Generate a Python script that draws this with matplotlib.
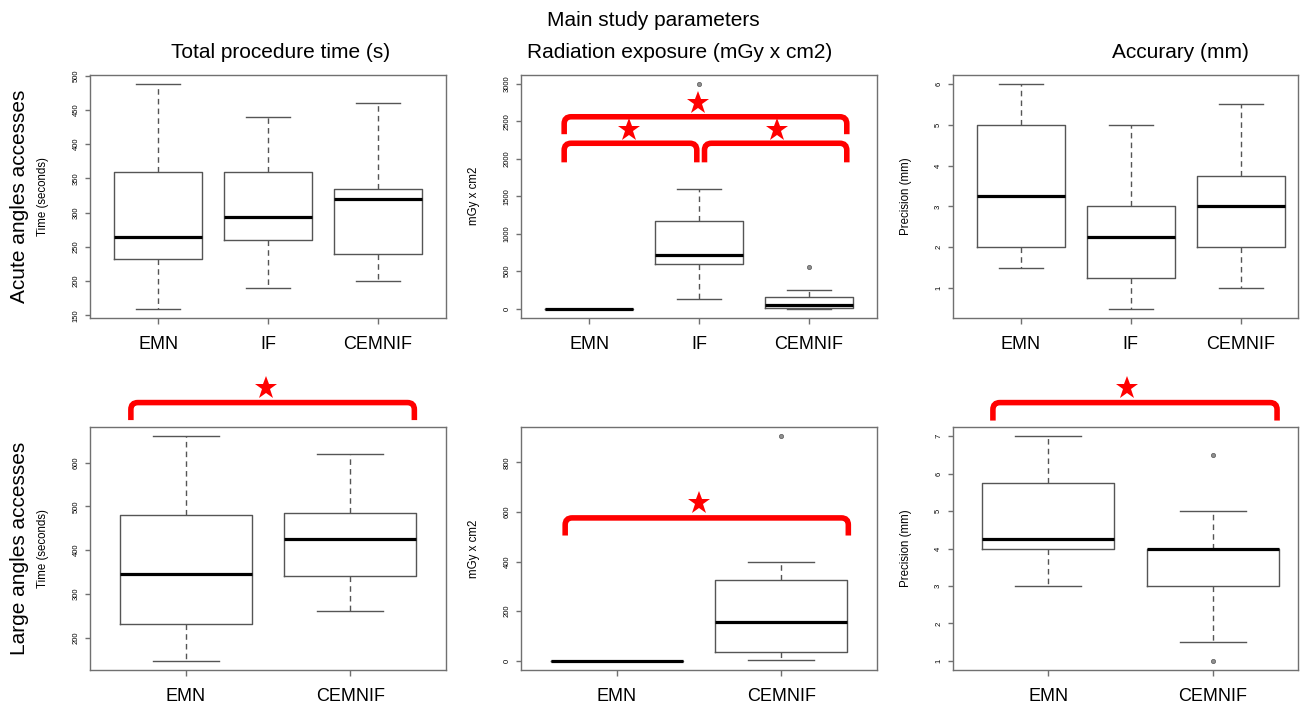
import numpy as np
import matplotlib.pyplot as plt
from matplotlib.path import Path
from matplotlib.patches import PathPatch

plt.rcParams['font.family'] = ['Liberation Sans', 'DejaVu Sans']

W, H = 1300, 705

groups_acute = ["EMN", "IF", "CEMNIF"]
groups_large = ["EMN", "CEMNIF"]

# five-number summaries per group: whisker low, Q1, median, Q3, whisker high
time_acute = [[160, 233, 265, 360, 488], [190, 260, 293, 360, 440], [200, 240, 320, 335, 460]]
time_acute_out = [[], [], []]
rad_acute = [[0, 0, 0, 0, 0], [130, 590, 710, 1175, 1600], [0, 10, 50, 160, 250]]
rad_acute_out = [[], [3000], [555]]
acc_acute = [[1.5, 2, 3.25, 5, 6], [0.5, 1.25, 2.25, 3, 5], [1, 2, 3, 3.75, 5.5]]
acc_acute_out = [[], [], []]

time_large = [[147, 232, 345, 480, 660], [260, 340, 425, 485, 620]]
time_large_out = [[], []]
rad_large = [[0, 0, 0, 0, 0], [5, 37, 157, 325, 400]]
rad_large_out = [[], [905]]
acc_large = [[3, 4, 4.25, 5.75, 7], [1.5, 3, 4, 4, 5]]
acc_large_out = [[], [6.5, 1]]

yticks_time_acute = [150, 200, 250, 300, 350, 400, 450, 500]
yticks_rad_acute = [0, 500, 1000, 1500, 2000, 2500, 3000]
yticks_acc_acute = [1, 2, 3, 4, 5, 6]
yticks_time_large = [200, 300, 400, 500, 600]
yticks_rad_large = [0, 200, 400, 600, 800]
yticks_acc_large = [1, 2, 3, 4, 5, 6, 7]

col_titles = ["Total procedure time (s)", "Radiation exposure (mGy x cm2)", "Accurary (mm)"]
row_titles = ["Acute angles accesses", "Large angles accesses"]
ylabels = ["Time (seconds)", "mGy x cm2", "Precision (mm)"]

# significance brackets: (x_left, x_right, y_top, y_leg_end) and stars (x, y)
brackets = {
    (0, 1): [(0.773, 1.98, 2208, 1953), (2.05, 3.345, 2208, 1953), (0.773, 3.345, 2562, 2329)],
    (1, 0): [(0.668, 2.388, 737, 697)],
    (1, 1): [(0.688, 2.406, 576, 505)],
    (1, 2): [(0.664, 2.388, 7.9, 7.42)],
}
stars = {
    (0, 1): [(1.364, 2383), (2.71, 2383), (1.99, 2744)],
    (1, 0): [(1.485, 770)],
    (1, 1): [(1.5, 635)],
    (1, 2): [(1.478, 8.28)],
}

panels = [
    [(time_acute, time_acute_out, yticks_time_acute),
     (rad_acute, rad_acute_out, yticks_rad_acute),
     (acc_acute, acc_acute_out, yticks_acc_acute)],
    [(time_large, time_large_out, yticks_time_large),
     (rad_large, rad_large_out, yticks_rad_large),
     (acc_large, acc_large_out, yticks_acc_large)],
]
row_groups = [groups_acute, groups_large]

col_left = [90, 521, 952.7]
col_width = [356, 356, 345.3]
row_top = [75, 427.3]
row_height = 242.5

EDGE = '#555555'
FRAME = '#707070'
RADIUS = 7  # bracket corner radius, pixels


def draw_bracket(ax, x0, x1, ytop, yleg, px_x, px_y):
    # rounded-corner bracket, radius given in pixels
    rx, ry = RADIUS / px_x, RADIUS / px_y
    verts = [(x0, yleg), (x0, ytop - ry), (x0, ytop), (x0 + rx, ytop),
             (x1 - rx, ytop), (x1, ytop), (x1, ytop - ry), (x1, yleg)]
    codes = [Path.MOVETO, Path.LINETO, Path.CURVE3, Path.CURVE3,
             Path.LINETO, Path.CURVE3, Path.CURVE3, Path.LINETO]
    ax.add_patch(PathPatch(Path(verts, codes), facecolor='none', edgecolor='#ff0000',
                           lw=4.0, capstyle='butt', clip_on=False, zorder=5))


fig = plt.figure(figsize=(W / 100, H / 100), dpi=100)

for r in range(2):
    groups = row_groups[r]
    n = len(groups)
    for c in range(3):
        summ, outs, yt = panels[r][c]
        l, w = col_left[c], col_width[c]
        t = row_top[r]
        ax = fig.add_axes([l / W, 1 - (t + row_height) / H, w / W, row_height / H])

        stats = []
        for s, o in zip(summ, outs):
            stats.append(dict(whislo=s[0], q1=s[1], med=s[2], q3=s[3], whishi=s[4], fliers=o))
        ax.bxp(stats, positions=range(1, n + 1), widths=0.8, showfliers=True,
               boxprops=dict(color=EDGE, linewidth=1.0),
               whiskerprops=dict(color=EDGE, linewidth=1.0, linestyle=(0, (4, 3))),
               capprops=dict(color=EDGE, linewidth=1.0),
               medianprops=dict(color='black', linewidth=2.3, solid_capstyle='butt'),
               flierprops=dict(marker='o', markersize=3.0, markerfacecolor='#909090',
                               markeredgecolor='#666666', markeredgewidth=0.6))

        # R style axis extents: 4% padding
        vals = [v for s in summ for v in s] + [v for o in outs for v in o]
        lo, hi = min(vals), max(vals)
        pad = 0.04 * (hi - lo)
        ax.set_ylim(lo - pad, hi + pad)
        xlo = 0.5 - 0.04 * n
        xhi = n + 0.5 + 0.04 * n
        ax.set_xlim(xlo, xlo + (xhi - xlo) * w / 356)

        ax.set_xticks(range(1, n + 1))
        ax.set_xticklabels(groups)
        ax.set_yticks(yt)
        ax.tick_params(axis='x', length=4.3, width=1.0, color=FRAME, pad=9, labelsize=13)
        ax.tick_params(axis='y', length=3.6, width=1.0, color=FRAME, pad=4, labelsize=5.5)
        for lab in ax.get_yticklabels():
            lab.set_rotation(90)
            lab.set_va('center')
        for sp in ax.spines.values():
            sp.set_color(FRAME)
            sp.set_linewidth(1.0)

        ax.set_ylabel(ylabels[c], fontsize=8.3)
        ax.yaxis.set_label_coords(-41 / w, 0.5)

        px_x = 356 / (xhi - xlo)
        px_y = row_height / (hi - lo + 2 * pad)
        for (x0, x1, ytop, yleg) in brackets.get((r, c), []):
            draw_bracket(ax, x0, x1, ytop, yleg, px_x, px_y)
        for (sx, sy) in stars.get((r, c), []):
            ax.plot(sx, sy, marker='*', color='#ff0000', markersize=17, clip_on=False,
                    zorder=6, markeredgewidth=0)

fig.text(653 / W, 1 - 20 / H, "Main study parameters", ha='center', va='center', fontsize=15)
for x, txt in zip([281, 680, 1180], col_titles):
    fig.text(x / W, 1 - 52 / H, txt, ha='center', va='center', fontsize=15)
for y, txt in zip([196, 548], row_titles):
    fig.text(20 / W, 1 - y / H, txt, ha='center', va='center', rotation=90, fontsize=15)

fig.savefig('out.png', dpi=100)
